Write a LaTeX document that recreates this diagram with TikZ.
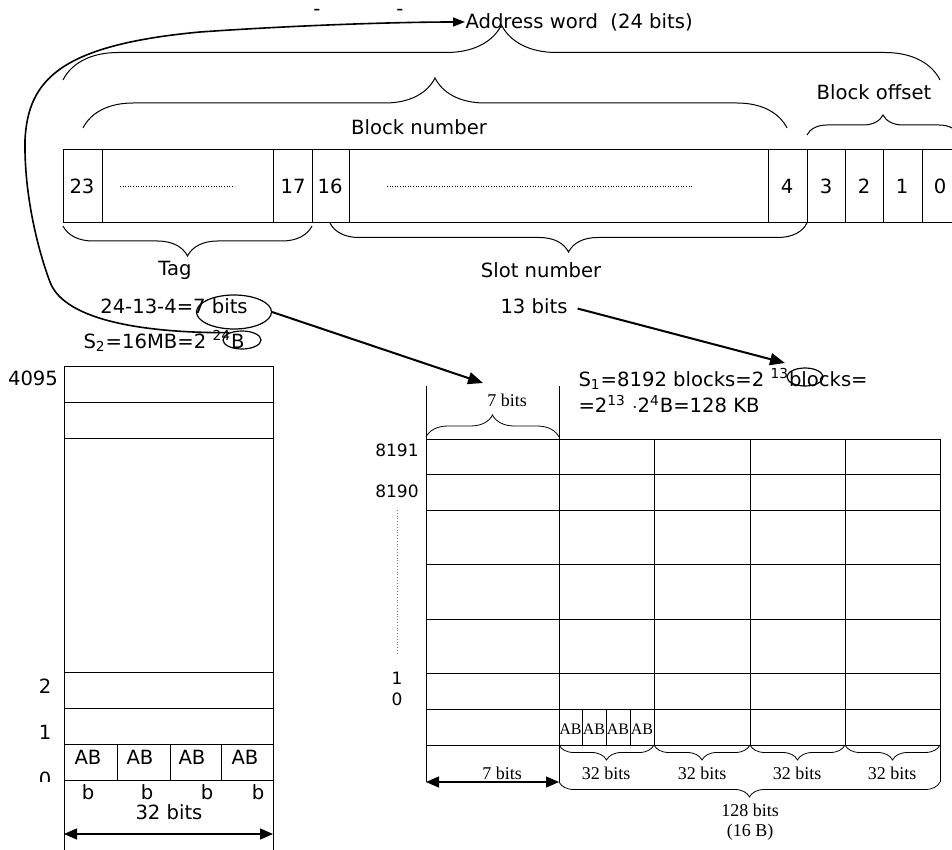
\documentclass[tikz,border=0pt]{standalone}
\usepackage{fontspec}
\setmainfont{DejaVu Sans}
\newfontfamily\tnr{Liberation Serif}
\usetikzlibrary{
	arrows.meta,
	decorations.pathreplacing,
	shapes.geometric,
	positioning
}

\begin{document}
\begin{tikzpicture}[x=0.5pt, y=-0.5pt, line width=0.5pt,
		lbl/.style={inner sep=0pt, font=\fontsize{9.8}{11}\selectfont},
		sml/.style={inner sep=0pt, font=\fontsize{8.5}{10}\selectfont},
		tms/.style={inner sep=0pt, font=\tnr\fontsize{9}{10}\selectfont},
		tab/.style={inner sep=0pt, font=\tnr\fontsize{8}{9}\selectfont},
		ring/.style={draw, ellipse, inner sep=0pt, line width=0.6pt},
		brc/.style={decorate, decoration={brace, amplitude=#1}},
		arr/.style={line width=1pt, -{Triangle[length=7.5pt, width=6pt]}},
		dimarr/.style={line width=0.6pt, {Triangle[length=6.5pt, width=5.5pt]}-{Triangle[length=6.5pt, width=5.5pt]}}
	]
	\clip (0,0) rectangle (952,850);
	% address word and its fields
	\node[lbl, anchor=west] (addr) at (465,22) {Address word~ (24 bits)};
	\node[lbl, anchor=base] (dashA) at (317,16) {-};
	\node[lbl, anchor=base] (dashB) at (400,16) {-};
	\draw[brc=27.5pt] (63,80) -- (940,80);
	\draw[brc=25pt] (83,128) -- (787,128);
	\draw[brc=10pt] (807,135) -- (959,135);
	\node[lbl] (blknum) at (419,127) {Block number};
	\node[lbl] (blkoff) at (874,92) {Block offset};
	
	\draw (63,150) rectangle (961,223);
	\foreach \x in {102,273,312,349,768,807,845,883,922}
	\draw (\x,150) -- (\x,223);
	\draw[densely dotted, line width=0.3pt] (120,186) -- (233,186);
	\draw[densely dotted, line width=0.3pt] (387,186) -- (693,186);
	\foreach \t/\x in {23/82, 17/293, 16/330, 4/787, 3/826, 2/864, 1/902, 0/940}
	\node[lbl] (bit\t) at (\x,186) {\t};
	
	\draw[brc=15pt] (312,226) -- (63,226);
	\draw[brc=14.5pt] (807,223) -- (330,223);
	\node[lbl] (tag) at (175,270) {Tag};
	\node[lbl] (slot) at (541,270) {Slot number};
	
	% sizes
	\node[lbl] (tagcalc) at (174,306) {24-13-4=7 bits};
	\node[ring, minimum width=37.5pt, minimum height=17pt] (tagell) at (234,312) {};
	\node[lbl] (s2) at (164,341) {S\textsubscript{2}=16MB=2 \textsuperscript{24}B};
	\node[ring, minimum width=19pt, minimum height=9pt] (bell) at (242,340) {};
	\node[lbl] (bits13) at (534,306) {13 bits};
	\node[lbl, anchor=west] (s1a) at (578,379) {S\textsubscript{1}=8192 blocks=2 \textsuperscript{13}blocks=};
	\node[lbl, anchor=west] (s1b) at (578,404) {=2\textsuperscript{13} $\cdot$2\textsuperscript{4}B=128 KB};
	\node[ring, minimum width=18pt, minimum height=9pt] (blkell) at (805,377) {};
	
	\coordinate (c7) at (483,383);
	\coordinate (c13) at (785,363);
	\draw[arr] (tagell.east) -- (c7);
	\draw[arr, shorten <=5pt] (bits13.east) -- (c13);
	\draw[line width=0.8pt, -{Triangle[length=6pt, width=4.5pt]}] (bell.150)
	.. controls (150,333) and (65,322) .. (50,282)
	.. controls (38,250) and (24,195) .. (25,140)
	.. controls (28,80) and (60,45) .. (200,32)
	.. controls (300,25) and (400,22) .. (addr.west);
	
	% main memory
	\draw (64,366) -- (64,850);
	\draw (273,366) -- (273,850);
	\foreach \y in {366,402,438,672,708,744,780}
	\draw (64,\y) -- (273,\y);
	\foreach \x in {117,170,221}
	\draw (\x,744) -- (\x,780);
	\node[lbl] (m4095) at (33,378) {4095};
	\node[lbl] (m2) at (45,686) {2};
	\node[lbl] (m1) at (45,732) {1};
	\begin{scope}
		\clip (30,765) rectangle (60,781);
		\node[lbl] (m0) at (45,779) {0};
	\end{scope}
	\foreach \i/\x in {1/88, 2/140, 3/192, 4/245}
	\node[lbl] (mab\i) at (\x,757) {AB};
	\foreach \i/\x in {1/88, 2/147, 3/207, 4/258}
	\node[lbl] (mb\i) at (\x,792) {b};
	\node[lbl] (m32) at (169,812) {32 bits};
	\coordinate (ml) at (64,834);
	\coordinate (mr) at (273,834);
	\draw[dimarr] (ml) -- (mr);
	
	% cache
	\draw (426,386) -- (426,782);
	\draw (559,386) -- (559,782);
	\draw (940,439) -- (940,782);
	\foreach \x in {654,750,845}
	\draw (\x,439) -- (\x,745);
	\foreach \y in {439,474,510,564,619,673,709,745}
	\draw (426,\y) -- (940,\y);
	\foreach \x in {582,606,630}
	\draw (\x,709) -- (\x,745);
	\foreach \i/\x in {1/570.5, 2/594, 3/618, 4/642}
	\node[tab] (cab\i) at (\x,729) {AB};
	\node[sml] (c8191) at (397,450) {8191};
	\node[sml] (c8190) at (397,491) {8190};
	\draw[densely dotted, gray, line width=0.4pt] (397,510) -- (397,655);
	\node[sml] (c1) at (397,678) {1};
	\node[sml] (c0) at (397,699) {0};
	
	\draw[brc=11pt, line width=0.4pt] (426,437) -- (559,437);
	\node[tms] (tag7) at (507,400) {7 bits};
	\foreach \a/\b in {559/654, 654/750, 750/845, 845/940}
	\draw[brc=7.5pt, line width=0.4pt] (\b,745) -- (\a,745);
	\foreach \i/\x in {1/606, 2/702, 3/797, 4/892}
	\node[tms] (w\i) at (\x,773) {32 bits};
	\draw[brc=7.5pt, line width=0.4pt] (940,782) -- (559,782);
	\node[tms] (line128) at (750,810) {128 bits};
	\node[tms] (line16) at (750,832) {(16 B)};
	\node[tms] (low7) at (502,773) {7 bits};
	\coordinate (cl) at (426,782);
	\coordinate (cr) at (559,782);
	\draw[dimarr] (cl) -- (cr);
\end{tikzpicture}
\end{document}
